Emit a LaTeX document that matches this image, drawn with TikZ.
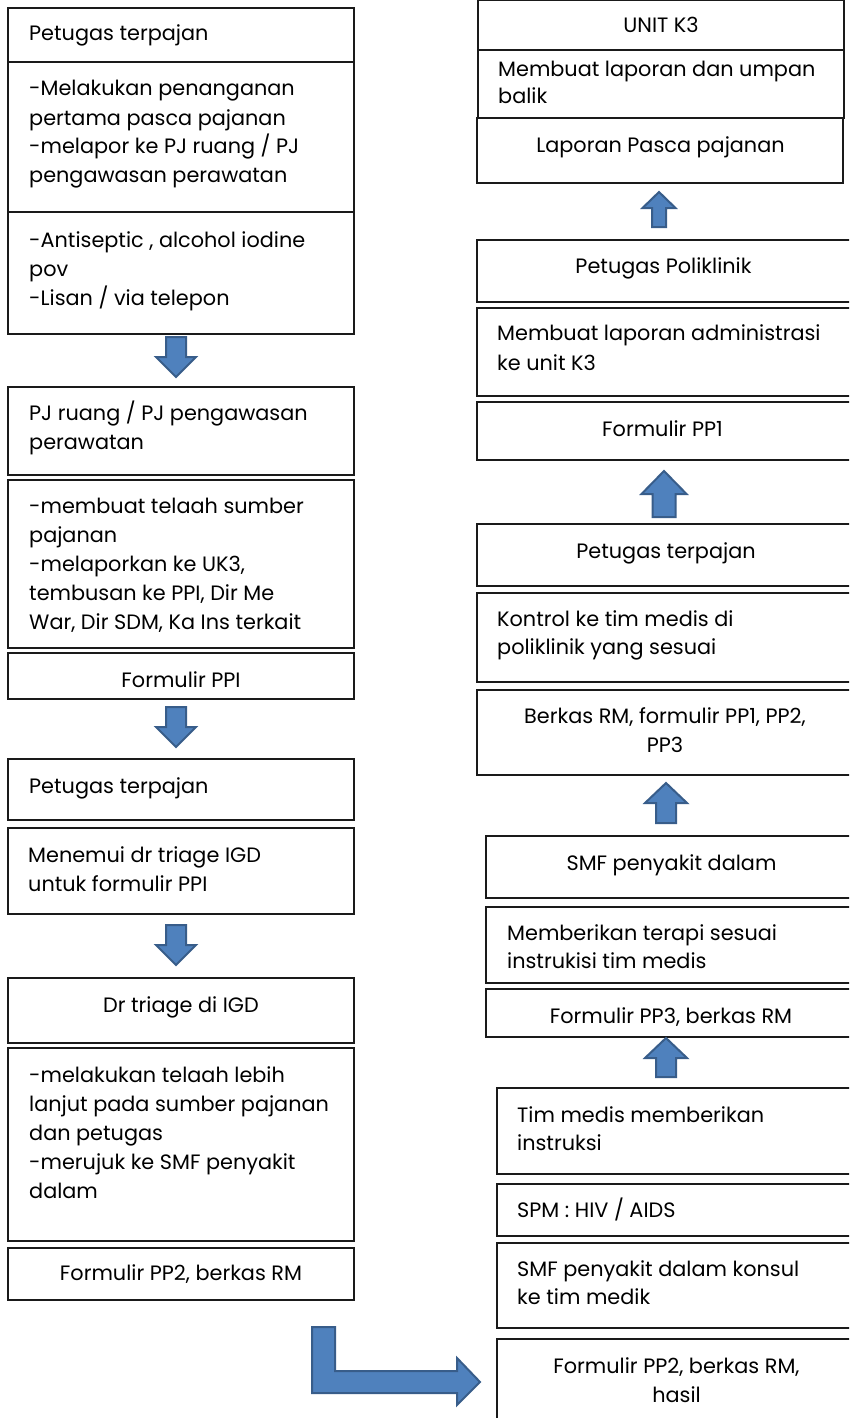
\documentclass[tikz,border=0pt]{standalone}
\usepackage{fontspec}
\setmainfont{Poppins}
\usetikzlibrary{fit}
\definecolor{arrfill}{HTML}{4F81BD}
\definecolor{arredge}{HTML}{385D8A}
\definecolor{boxline}{HTML}{1A1A1A}
\newcommand\Lft[2]{\vtop{\baselineskip=#1pt\lineskiplimit=-20pt\halign{##\hfil\cr#2\crcr}}}
\newcommand\Ctr[2]{\vtop{\baselineskip=#1pt\lineskiplimit=-20pt\halign{\hfil##\hfil\cr#2\crcr}}}
\tikzset{
  box/.style={draw=boxline, line width=1.1pt, inner sep=0pt, fill=none},
  txt/.style={inner sep=0pt, font=\fontsize{20.8}{29}\selectfont, text=black},
  blk/.style={fill=arrfill, draw=arredge, line width=2pt, line join=miter},
}
% down arrow: cx, ytop, ytip, shaft half, head half, head height
\newcommand\darr[6]{\draw[blk] (#1-#4,#2) -- (#1+#4,#2) -- (#1+#4,#3-#6) -- (#1+#5,#3-#6) -- (#1,#3) -- (#1-#5,#3-#6) -- (#1-#4,#3-#6) -- cycle;}
% up arrow: cx, ytip, ybase, shaft half, head half, head height
\newcommand\uarr[6]{\draw[blk] (#1-#4,#3) -- (#1+#4,#3) -- (#1+#4,#2+#6) -- (#1+#5,#2+#6) -- (#1,#2) -- (#1-#5,#2+#6) -- (#1-#4,#2+#6) -- cycle;}
\begin{document}
\begin{tikzpicture}[x=1pt,y=-1pt]
\useasboundingbox (0,0) rectangle (849,1418);
\clip (0,0) rectangle (849,1418);
\fill[white] (0,0) rectangle (849,1418);

% ---------- left column ----------
\node[box, fit={(8,8) (354,62)}] (L1) {};
\node[box, fit={(8,62) (354,212)}] (L2) {};
\node[box, fit={(8,212) (354,334)}] (L3) {};
\node[box, fit={(8,387) (354,475)}] (L4) {};
\node[box, fit={(8,480) (354,648)}] (L5) {};
\node[box, fit={(8,653) (354,699)}] (L6) {};
\node[box, fit={(8,759) (354,820)}] (L7) {};
\node[box, fit={(8,828) (354,914)}] (L8) {};
\node[box, fit={(8,978) (354,1043)}] (L9) {};
\node[box, fit={(8,1048) (354,1241)}] (L10) {};
\node[box, fit={(8,1248) (354,1300)}] (L11) {};

\node[txt, anchor=base west] (L1t) at (29,41) {\Lft{29}{Petugas terpajan}};
\node[txt, anchor=base west] (L2t) at (29,96) {\Lft{29}{-Melakukan penanganan\cr pertama pasca pajanan\cr -melapor ke PJ ruang / PJ\cr pengawasan perawatan}};
\node[txt, anchor=base west] (L3t) at (29,247) {\Lft{29}{-Antiseptic , alcohol iodine\cr pov\cr -Lisan / via telepon}};
\node[txt, anchor=base west] (L4t) at (29,420) {\Lft{29}{PJ ruang / PJ pengawasan\cr perawatan}};
\node[txt, anchor=base west] (L5t) at (29,513) {\Lft{29}{-membuat telaah sumber\cr pajanan\cr -melaporkan ke UK3,\cr tembusan ke PPI, Dir Me\cr War, Dir SDM, Ka Ins terkait}};
\node[txt, anchor=base] (L6t) at (181,687) {\Ctr{29}{Formulir PPI}};
\node[txt, anchor=base west] (L7t) at (29,793) {\Lft{29}{Petugas terpajan}};
\node[txt, anchor=base west] (L8t) at (28,862) {\Lft{29}{Menemui dr triage IGD\cr untuk formulir PPI}};
\node[txt, anchor=base] (L9t) at (181,1012) {\Ctr{29}{Dr triage di IGD}};
\node[txt, anchor=base west] (L10t) at (29,1082) {\Lft{29}{-melakukan telaah lebih\cr lanjut pada sumber pajanan\cr dan petugas\cr -merujuk ke SMF penyakit\cr dalam}};
\node[txt, anchor=base] (L11t) at (181,1280) {\Ctr{29}{Formulir PP2, berkas RM}};

% ---------- right column ----------
\node[box, fit={(478,0) (844,50)}] (R1) {};
\node[box, fit={(478,50) (844,118)}] (R2) {};
\node[box, fit={(477,118) (843,183)}] (R3) {};
\node[box, fit={(477,240) (856,302)}] (R4) {};
\node[box, fit={(477,308) (856,396)}] (R5) {};
\node[box, fit={(477,402) (856,460)}] (R6) {};
\node[box, fit={(477,524) (856,586)}] (R7) {};
\node[box, fit={(477,593) (856,682)}] (R8) {};
\node[box, fit={(477,690) (856,775)}] (R9) {};
\node[box, fit={(486,836) (856,898)}] (R10) {};
\node[box, fit={(486,907) (856,983)}] (R11) {};
\node[box, fit={(486,989) (856,1037)}] (R12) {};
\node[box, fit={(497,1088) (856,1174)}] (R13) {};
\node[box, fit={(497,1184) (856,1236)}] (R14) {};
\node[box, fit={(497,1243) (856,1328)}] (R15) {};
\node[box, fit={(497,1339) (856,1430)}] (R16) {};

\node[txt, anchor=base] (R1t) at (661,33) {\Ctr{29}{UNIT K3}};
\node[txt, anchor=base west] (R2t) at (498,77) {\Lft{27}{Membuat laporan dan umpan\cr balik}};
\node[txt, anchor=base] (R3t) at (660.5,152) {\Ctr{29}{Laporan Pasca pajanan}};
\node[txt, anchor=base] (R4t) at (663.5,273) {\Ctr{29}{Petugas Poliklinik}};
\node[txt, anchor=base west] (R5t) at (497,340) {\Lft{30}{Membuat laporan administrasi\cr ke unit K3}};
\node[txt, anchor=base] (R6t) at (662.5,436) {\Ctr{29}{Formulir PP1}};
\node[txt, anchor=base] (R7t) at (666,558) {\Ctr{29}{Petugas terpajan}};
\node[txt, anchor=base west] (R8t) at (497,626) {\Lft{28}{Kontrol ke tim medis di\cr poliklinik yang sesuai}};
\node[txt, anchor=base] (R9t) at (665,723) {\Ctr{29}{Berkas RM, formulir PP1, PP2,\cr PP3}};
\node[txt, anchor=base] (R10t) at (671.5,870) {\Ctr{29}{SMF penyakit dalam}};
\node[txt, anchor=base west] (R11t) at (507,940) {\Lft{28}{Memberikan terapi sesuai\cr instrukisi tim medis}};
\node[txt, anchor=base] (R12t) at (671,1023) {\Ctr{29}{Formulir PP3, berkas RM}};
\node[txt, anchor=base west] (R13t) at (517,1122) {\Lft{28}{Tim medis memberikan\cr instruksi}};
\node[txt, anchor=base west] (R14t) at (517,1217) {\Lft{28}{SPM : HIV / AIDS}};
\node[txt, anchor=base west] (R15t) at (517,1276) {\Lft{28}{SMF penyakit dalam konsul\cr ke tim medik}};
\node[txt, anchor=base] (R16t) at (676.5,1373) {\Ctr{29}{Formulir PP2, berkas RM,\cr hasil}};

% ---------- block arrows ----------
\darr{176}{337}{377}{10}{20}{20}
\darr{176}{707}{747}{10}{20}{20}
\darr{176}{925}{965}{10}{20}{20}
\uarr{659}{192}{227}{7}{16.5}{16}
\uarr{664}{471}{517}{11.5}{22.5}{23}
\uarr{666}{783}{823}{10}{21}{20}
\uarr{666}{1038}{1077}{10}{21}{20}
\draw[blk] (312,1327) -- (335,1327) -- (335,1371) -- (457,1371) -- (457,1358) -- (480,1382) -- (457,1405) -- (457,1393) -- (312,1393) -- cycle;
\end{tikzpicture}
\end{document}
